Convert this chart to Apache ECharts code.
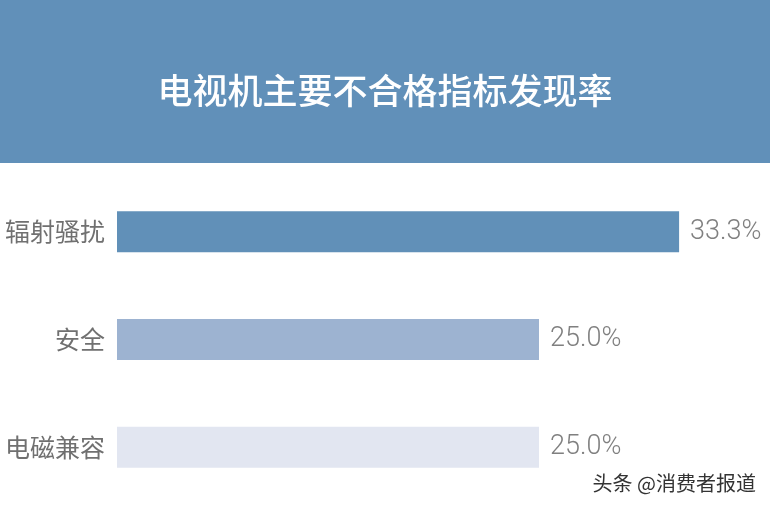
<!DOCTYPE html>
<html><head><meta charset="utf-8">
<script src="https://cdn.jsdelivr.net/npm/echarts@6/dist/echarts.min.js"></script>
<style>html,body{margin:0;padding:0;background:#fff;}#c{width:770px;height:508px;}</style>
</head><body><div id="c"></div>
<script>
const titleText = '电视机主要不合格指标发现率';
const categories = ['辐射骚扰', '安全', '电磁兼容'];
const values = [33.3, 25.0, 25.0];
const barColors = ['#6190b8', '#9db3d1', '#e2e6f1'];
const watermark = '头条 @消费者报道';

const chart = echarts.init(document.getElementById('c'));
chart.setOption({
  backgroundColor: '#ffffff',
  animation: false,
  graphic: [
    { type: 'rect', left: 0, top: 0, shape: { width: 770, height: 163 }, style: { fill: '#6190b9' }, z: -1 },
    { type: 'text', right: 14, top: 473, style: { text: watermark, font: '20px "Noto Sans CJK SC", sans-serif', fill: '#333', textShadowColor: '#fff', textShadowBlur: 2 }, z: 10 }
  ],
  title: {
    text: titleText, left: 'center', top: 68,
    textStyle: { color: '#ffffff', fontSize: 35, fontWeight: 500, fontFamily: '"Noto Sans CJK SC", sans-serif' }
  },
  grid: { left: 117, right: 770 - 117 - 16.88 * 35, top: 178, bottom: 7 },
  xAxis: { type: 'value', min: 0, max: 35, show: false },
  yAxis: {
    type: 'category', data: categories, inverse: true,
    axisLine: { show: false }, axisTick: { show: false }, splitLine: { show: false },
    axisLabel: { color: '#707070', fontSize: 25, margin: 12, fontFamily: '"Noto Sans CJK SC", sans-serif' }
  },
  series: [{
    type: 'bar', data: values.map((v, i) => ({ value: v, itemStyle: { color: barColors[i] } })),
    barWidth: 41,
    label: {
      show: true, position: 'right', distance: 11,
      formatter: p => p.value.toFixed(1) + '%',
      color: '#808080', fontSize: 27, fontWeight: 300, fontFamily: 'Roboto, "Liberation Sans", sans-serif'
    }
  }]
});
</script></body></html>
